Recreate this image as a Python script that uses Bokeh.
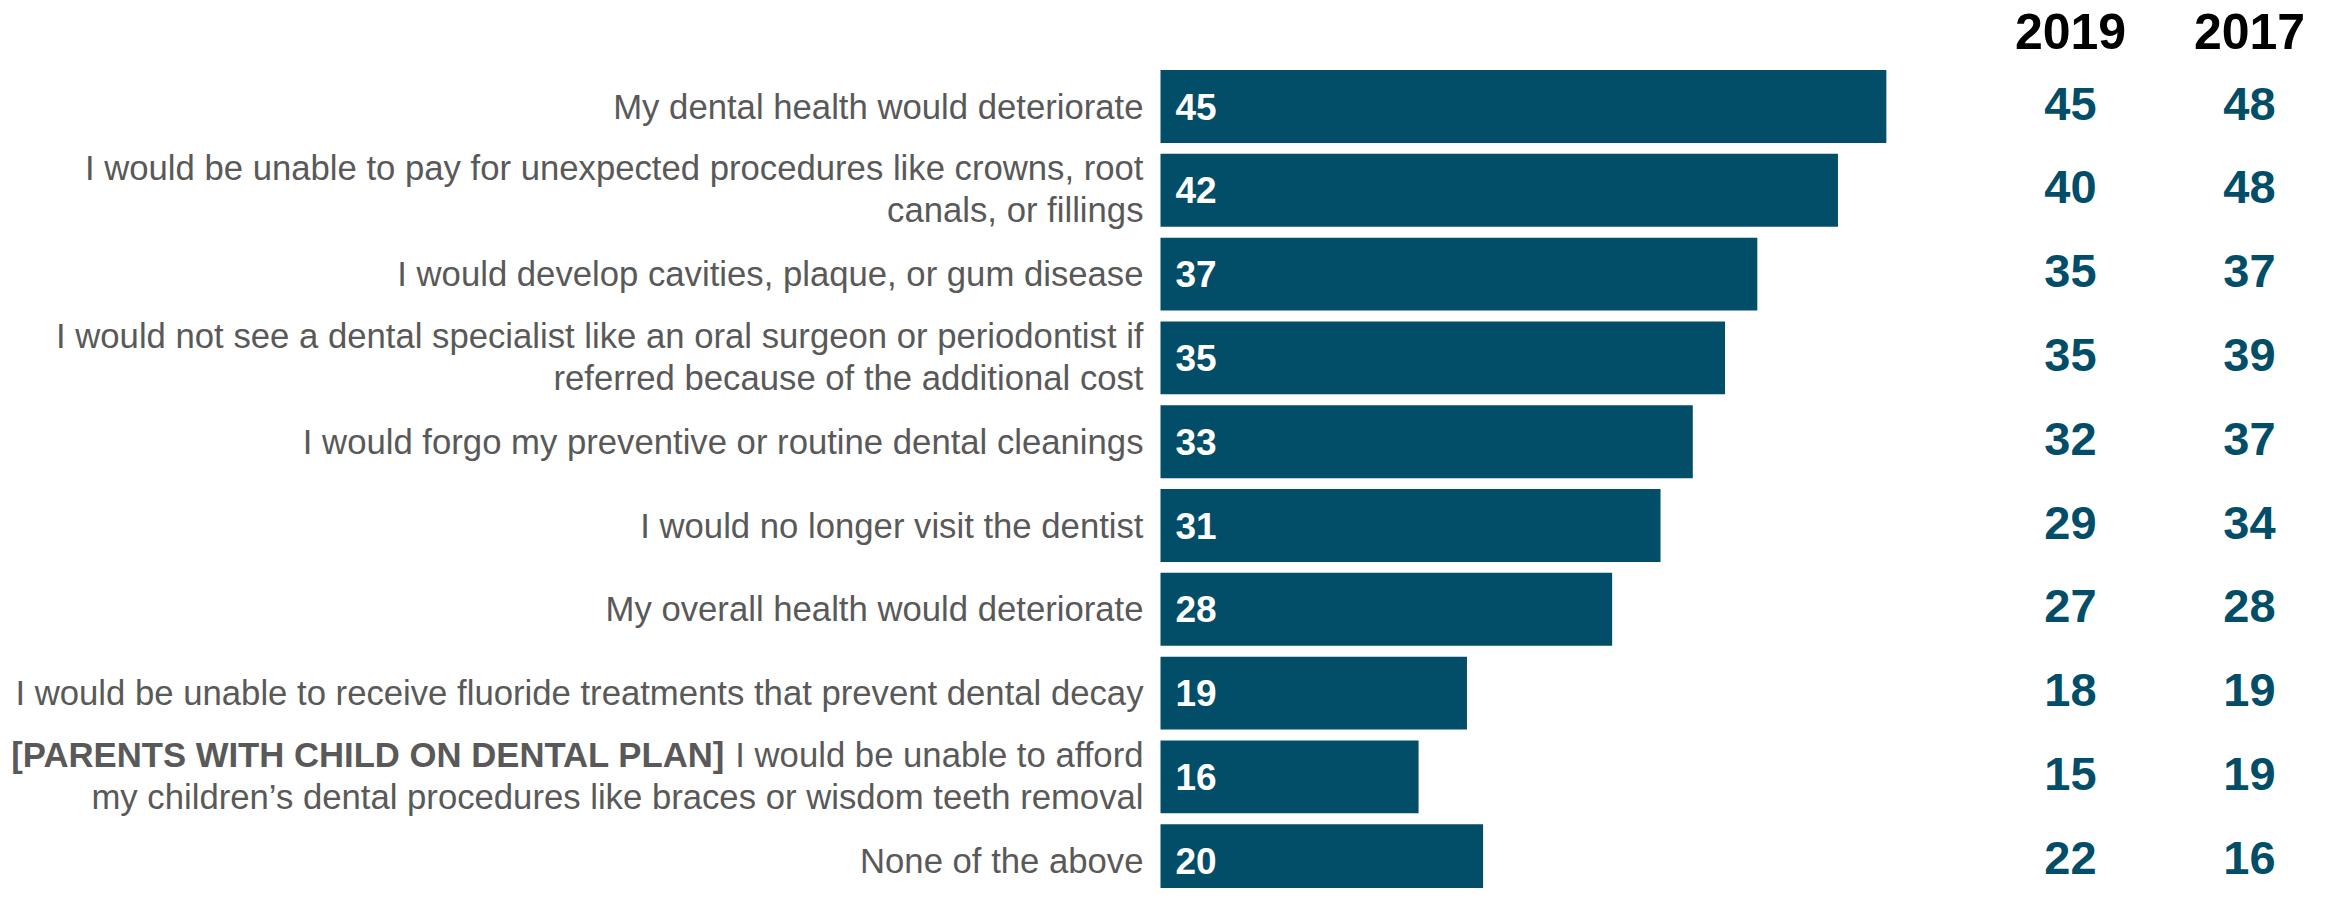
from bokeh.plotting import figure
from bokeh.models import ColumnDataSource, Range1d
from bokeh.core.properties import value
from bokeh.embed import file_html
from bokeh.resources import INLINE

# ---------------- data ----------------
categories = [
    "My dental health would deteriorate",
    "I would be unable to pay for unexpected procedures like crowns, root\ncanals, or fillings",
    "I would develop cavities, plaque, or gum disease",
    "I would not see a dental specialist like an oral surgeon or periodontist if\nreferred because of the additional cost",
    "I would forgo my preventive or routine dental cleanings",
    "I would no longer visit the dentist",
    "My overall health would deteriorate",
    "I would be unable to receive fluoride treatments that prevent dental decay",
    "[PARENTS WITH CHILD ON DENTAL PLAN] I would be unable to afford\nmy children\u2019s dental procedures like braces or wisdom teeth removal",
    "None of the above",
]
bold_prefix = "[PARENTS WITH CHILD ON DENTAL PLAN]"
current_values = [45, 42, 37, 35, 33, 31, 28, 19, 16, 20]
values_2019 = [45, 40, 35, 35, 32, 29, 27, 18, 15, 22]
values_2017 = [48, 48, 37, 39, 37, 34, 28, 19, 19, 16]
column_headers = ["2019", "2017"]

# ---------------- style ----------------
BAR_COLOR = "#024d68"
LABEL_COLOR = "#595959"
FONT = "Liberation Sans"
LABEL_PX = 34.7
W, H = 2318, 888

# layout mapping (picture pixels -> data)
PX_PER_UNIT = 16.13
X0 = 1160.0
ROW0 = 106.0
ROW_PITCH = 83.8
x_start = (0 - X0) / PX_PER_UNIT
x_end = (W - X0) / PX_PER_UNIT
y_top = (0 - ROW0) / ROW_PITCH
y_bot = (H - ROW0) / ROW_PITCH

def col_x(px):
    return (px - X0) / PX_PER_UNIT

# Arial / Liberation Sans advance widths (1/1000 em)
_W = {" ": 278, "I": 278, "a": 556, "b": 556, "d": 556, "e": 556, "f": 278,
      "l": 222, "n": 556, "o": 556, "r": 333, "t": 278, "u": 556, "w": 722,
      "y": 500, "s": 500, "c": 500, "p": 556, "h": 556, "i": 222, "m": 833,
      "g": 556, "k": 500, "v": 500}

def text_width(s, px):
    return sum(_W.get(ch, 556) for ch in s) * px / 1000.0

idx = list(range(len(categories)))

p = figure(width=W, height=H, output_backend="svg", toolbar_location=None,
           x_range=Range1d(x_start, x_end), y_range=Range1d(y_bot, y_top),
           x_axis_location=None, y_axis_location=None, min_border=0)
p.grid.visible = False
p.outline_line_color = None
p.background_fill_color = "white"

# bars
bars = ColumnDataSource(dict(y=idx, v=current_values,
                             lab=[str(v) for v in current_values]))
p.hbar(y="y", left=0, right="v", height=0.87, source=bars,
       fill_color=BAR_COLOR, line_color=None)
p.text(x=0, y="y", text="lab", source=bars, x_offset=15,
       text_font=value(FONT), text_font_style="bold", text_font_size="37px",
       text_color="white", text_align="left", text_baseline="middle")

# category labels (line by line)
reg = dict(x=[], y=[], t=[], dy=[], dx=[])
bold = dict(x=[], y=[], t=[], dy=[], dx=[])
for i, lab in zip(idx, categories):
    lines = lab.split("\n")
    offs = [0] if len(lines) == 1 else [-22, 20]
    for line, dy in zip(lines, offs):
        if line.startswith(bold_prefix):
            rest = line[len(bold_prefix):].strip()
            reg["x"].append(0); reg["y"].append(i); reg["t"].append(rest)
            reg["dy"].append(dy); reg["dx"].append(-17)
            bold["x"].append(0); bold["y"].append(i); bold["t"].append(bold_prefix)
            bold["dy"].append(dy)
            bold["dx"].append(-17 - text_width(rest, LABEL_PX) - text_width(" ", LABEL_PX))
        else:
            reg["x"].append(0); reg["y"].append(i); reg["t"].append(line)
            reg["dy"].append(dy); reg["dx"].append(-17)

p.text(x="x", y="y", text="t", source=ColumnDataSource(reg),
       x_offset="dx", y_offset="dy",
       text_font=value(FONT), text_font_size=f"{LABEL_PX}px",
       text_color=LABEL_COLOR, text_align="right", text_baseline="middle")
p.text(x="x", y="y", text="t", source=ColumnDataSource(bold),
       x_offset="dx", y_offset="dy",
       text_font=value(FONT), text_font_style="bold", text_font_size=f"{LABEL_PX}px",
       text_color=LABEL_COLOR, text_align="right", text_baseline="middle")

# comparison columns
cx = [col_x(2070), col_x(2249)]
for header, vals, x in zip(column_headers, [values_2019, values_2017], cx):
    src = ColumnDataSource(dict(y=idx, t=[str(v) for v in vals]))
    p.text(x=x, y="y", text="t", source=src, y_offset=-3,
           text_font=value(FONT), text_font_style="bold", text_font_size="47px",
           text_color=BAR_COLOR, text_align="center", text_baseline="middle")
    p.text(x=[x], y=[(31 - ROW0) / ROW_PITCH], text=[header],
           text_font=value(FONT), text_font_style="bold", text_font_size="50px",
           text_color="black", text_align="center", text_baseline="middle")

open("out.html", "w").write(file_html(p, INLINE))
